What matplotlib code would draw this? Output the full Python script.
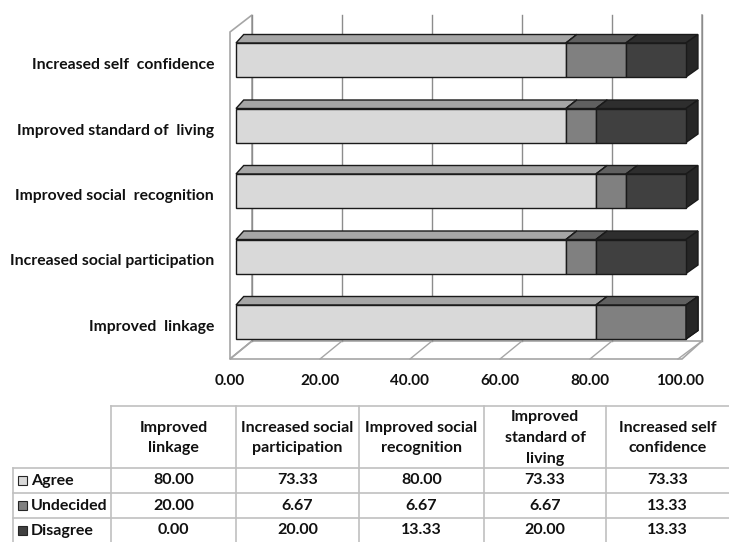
import matplotlib.pyplot as plt
from matplotlib.patches import Polygon, Rectangle

# data
categories = ['Improved  linkage', 'Increased social participation',
              'Improved social  recognition', 'Improved standard of  living',
              'Increased self  confidence']
table_headers = ['Improved\nlinkage', 'Increased social\nparticipation',
                 'Improved social\nrecognition', 'Improved\nstandard of\nliving',
                 'Increased self\nconfidence']
series = ['Agree', 'Undecided', 'Disagree']
agree = [80.00, 73.33, 80.00, 73.33, 73.33]
undecided = [20.00, 6.67, 6.67, 6.67, 13.33]
disagree = [0.00, 20.00, 13.33, 20.00, 13.33]
xticks = [0, 20, 40, 60, 80, 100]

front_cols = ['#d9d9d9', '#808080', '#404040']
top_cols = ['#a6a6a6', '#606060', '#2e2e2e']
side_cols = ['#bdbdbd', '#4a4a4a', '#262626']

FONT = 'Lato'
W, H = 729, 542
fig = plt.figure(figsize=(W / 100, H / 100), dpi=100)

# pixel scale of the chart: value 0 at x=236px, 4.5px per unit; category 0 at y=322px, 65.5px apart
PX_X = 4.5
PX_Y = 65.5
ax_l, ax_r, ax_t, ax_b = 215, 729, 5, 395
ax = fig.add_axes([ax_l / W, 1 - ax_b / H, (ax_r - ax_l) / W, (ax_b - ax_t) / H])
ax.set_xlim((ax_l - 236) / PX_X, (ax_r - 236) / PX_X)
ax.set_ylim((322 - ax_b) / PX_Y, (322 - ax_t) / PX_Y)
ax.axis('off')

ux = lambda px: px / PX_X
uy = lambda px: px / PX_Y

# walls
front_off, back_off = ux(-6), ux(16)
floor_front, floor_back = uy(-37), uy(-19)
wall_top_back, wall_top_front = 4 + uy(45), 4 + uy(28)
wall_kw = dict(facecolor='white', edgecolor='#a6a6a6', lw=1.2, zorder=1)
ax.add_patch(Polygon([(front_off, wall_top_front), (back_off, wall_top_back),
                      (back_off, floor_back), (front_off, floor_front)], **wall_kw))
ax.add_patch(Polygon([(front_off, floor_front), (100 + ux(-4), floor_front),
                      (100 + back_off, floor_back), (back_off, floor_back)], **wall_kw))
ax.plot([100 + back_off, 100 + back_off], [floor_back, wall_top_back], color='#a6a6a6', lw=1.2, zorder=1)
for v in xticks:
    ax.plot([v + back_off, v + back_off], [floor_back, wall_top_back], color='#8c8c8c', lw=1, zorder=2)
    ax.plot([v + back_off, v + front_off - (ux(2) if v == 100 else 0)], [floor_back, floor_front],
            color='#a6a6a6', lw=1, zorder=2)
    ax.text(v + front_off, floor_front - uy(22), f'{v:.2f}', ha='center', va='center',
            fontsize=11, fontweight='bold', family=FONT, color='#111111')

# bars
h = uy(17)
dy = uy(8.5)
depth = lambda v: ux(7.7 + 0.043 * v)
for i, cat in enumerate(categories):
    left = 0
    for k, vals in enumerate([agree, undecided, disagree]):
        w = vals[i]
        right = left + w
        kw = dict(edgecolor='#1a1a1a', lw=1, zorder=5)
        if w > 0:
            ax.add_patch(Polygon([(left, i + h), (right, i + h), (right + depth(right), i + h + dy),
                                  (left + depth(left), i + h + dy)], facecolor=top_cols[k], **kw))
        ax.add_patch(Polygon([(right, i - h), (right + depth(right), i - h + dy),
                              (right + depth(right), i + h + dy), (right, i + h)],
                             facecolor=side_cols[k], **kw))
        if w > 0:
            ax.add_patch(Rectangle((left, i - h), w, 2 * h, facecolor=front_cols[k], **kw))
        left = right
    ax.text(ux(214 - 236), i - uy(5), cat, ha='right', va='center', fontsize=11.3,
            fontweight='bold', family=FONT, color='#111111')

# data table
tx = fig.add_axes([0, 0, 1, 1])
tx.set_xlim(0, W)
tx.set_ylim(H, 0)
tx.axis('off')
col_x = [111, 236, 359, 484, 606, 729]
row_y = [406, 468, 493, 518, 543]
lc = '#c0c0c0'
tx.plot([col_x[0], W], [row_y[0], row_y[0]], color=lc, lw=1.2)
for y in row_y[1:4]:
    tx.plot([13, W], [y, y], color=lc, lw=1.2)
tx.plot([13, 13], [row_y[1], H], color=lc, lw=1.2)
for x in col_x[:-1]:
    tx.plot([x, x], [row_y[0], H], color=lc, lw=1.2)

tfont = dict(fontsize=11.5, fontweight='bold', family=FONT, color='#111111')
for j, head in enumerate(table_headers):
    tx.text((col_x[j] + col_x[j + 1]) / 2, (row_y[0] + row_y[1]) / 2 + 1, head, ha='center',
            va='center', linespacing=1.6, **tfont)
for r, (name, vals) in enumerate(zip(series, [agree, undecided, disagree])):
    yc = (row_y[r + 1] + row_y[r + 2]) / 2
    tx.add_patch(Rectangle((18, yc - 4.5), 9, 9, facecolor=front_cols[r], edgecolor='#262626', lw=0.8))
    tx.text(31, yc, name, ha='left', va='center', **tfont)
    for j, v in enumerate(vals):
        tx.text((col_x[j] + col_x[j + 1]) / 2, yc, f'{v:.2f}', ha='center', va='center', **tfont)

fig.savefig('out.png', dpi=100, facecolor='white')
